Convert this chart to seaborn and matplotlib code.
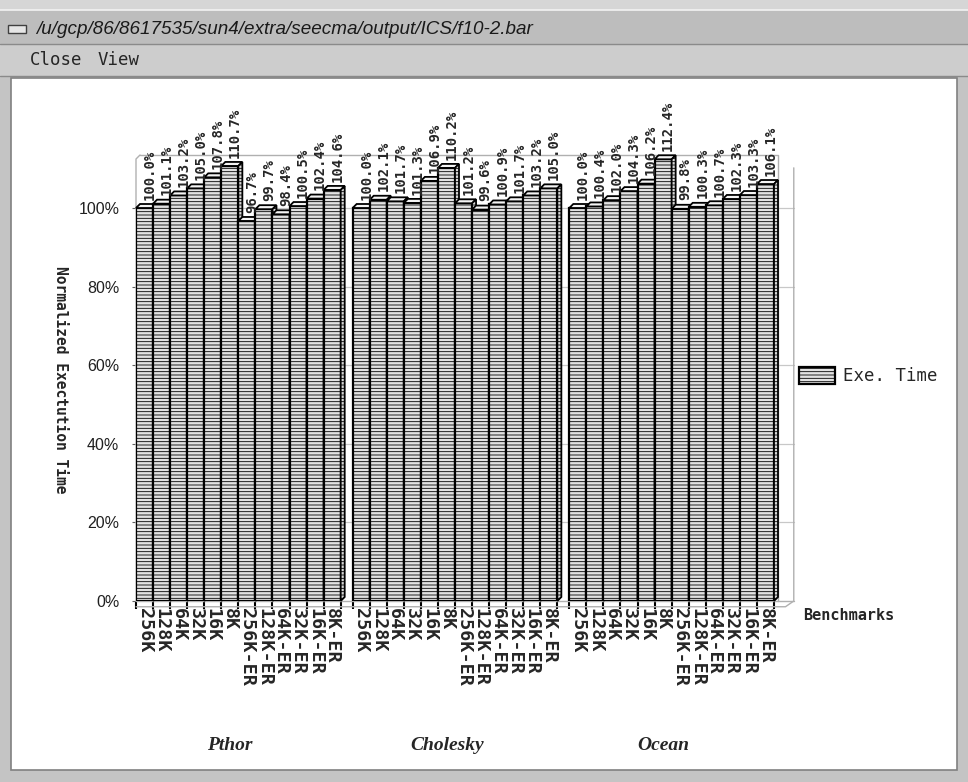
import numpy as np
import pandas as pd
import matplotlib
matplotlib.use("Agg")
import matplotlib.pyplot as plt
from matplotlib.patches import Rectangle, Polygon, Patch
from matplotlib.lines import Line2D
import seaborn as sns

# ---- data -------------------------------------------------------------
groups = ["Pthor", "Cholesky", "Ocean"]
configs = ["256K", "128K", "64K", "32K", "16K", "8K",
           "256K-ER", "128K-ER", "64K-ER", "32K-ER", "16K-ER", "8K-ER"]
pthor = [100.0, 101.1, 103.2, 105.0, 107.8, 110.7, 96.7, 99.7, 98.4, 100.5, 102.4, 104.6]
cholesky = [100.0, 102.1, 101.7, 101.3, 106.9, 110.2, 101.2, 99.6, 100.9, 101.7, 103.2, 105.0]
ocean = [100.0, 100.4, 102.0, 104.3, 106.2, 112.4, 99.8, 100.3, 100.7, 102.3, 103.3, 106.1]
yticks = [0, 20, 40, 60, 80, 100]

GAP = 0.7  # empty slot between benchmark groups, in bar widths
rows = []
for g, (name, vals) in enumerate(zip(groups, [pthor, cholesky, ocean])):
    for i, (cfg, v) in enumerate(zip(configs, vals)):
        rows.append({"group": name, "config": cfg, "value": v,
                     "pos": g * (len(configs) + GAP) + i})
df = pd.DataFrame(rows)

# ---- figure / window chrome --------------------------------------------
W, H = 968, 782
sns.set_style("white")
plt.rcParams["hatch.color"] = "#a6a6a6"
plt.rcParams["hatch.linewidth"] = 0.6
fig = plt.figure(figsize=(W / 100, H / 100), dpi=100)
fig.patch.set_facecolor("#c4c4c4")


def frect(x, y, w, h, **kw):
    """Rectangle in pixel coordinates measured from the top-left corner."""
    r = Rectangle((x / W, 1 - (y + h) / H), w / W, h / H,
                  transform=fig.transFigure, zorder=-10, **kw)
    fig.add_artist(r)
    return r


def fline(xs, ys, **kw):
    fig.add_artist(Line2D([x / W for x in xs], [1 - y / H for y in ys],
                          transform=fig.transFigure, zorder=-9, **kw))


frect(0, 0, W, 10, facecolor="#d6d6d6", edgecolor="none")
frect(0, 10, W, 34, facecolor="#bdbdbd", edgecolor="none")
fline([0, W], [10, 10], color="#f2f2f2", lw=1.2)
fline([0, W], [44, 44], color="#8a8a8a", lw=1.0)
frect(0, 45, W, 31, facecolor="#cdcdcd", edgecolor="none")
fline([0, W], [76, 76], color="#8a8a8a", lw=1.0)
frect(8, 25, 18, 8, facecolor="#e6e6e6", edgecolor="#404040", lw=1.0)
fig.text(36 / W, 1 - 29 / H, "/u/gcp/86/8617535/sun4/extra/seecma/output/ICS/f10-2.bar",
         fontsize=13.6, style="italic", family="Liberation Sans", color="#1a1a1a",
         va="center", ha="left")
fig.text(30 / W, 1 - 60 / H, "Close", fontsize=12.5, family="DejaVu Sans Mono",
         va="center", ha="left")
fig.text(98 / W, 1 - 60 / H, "View", fontsize=12.5, family="DejaVu Sans Mono",
         va="center", ha="left")
frect(11, 78, W - 22, H - 90, facecolor="white", edgecolor="#808080", lw=1.2)

# ---- chart axes ---------------------------------------------------------
AX_L, AX_R, AX_B, AX_T = 136, 774, 601, 159
ax = fig.add_axes([AX_L / W, 1 - AX_B / H, (AX_R - AX_L) / W, (AX_B - AX_T) / H])
ax.set_facecolor("none")

sns.barplot(data=df, x="pos", y="value", native_scale=True, orient="x",
            width=1.0, color="#e2e2e2", edgecolor="black", linewidth=1.6,
            hatch="-----", errorbar=None, ax=ax, zorder=3)

npos = df["pos"].to_numpy()
ax.set_xlim(npos.min() - 0.5, npos.max() + 0.5)
ymax = 100 * (AX_B - AX_T) / (AX_B - 208)
ax.set_ylim(0, ymax)

# pixel sizes -> data units for the oblique depth of the bars
px_x = (npos.max() - npos.min() + 1) / (AX_R - AX_L)
px_y = ymax / (AX_B - AX_T)
D = 4
dx, dy = D * px_x, D * px_y

bars = sorted(ax.patches, key=lambda p: p.get_x())
edges = []
for k, bar in enumerate(bars):
    x0, w, h = bar.get_x(), bar.get_width(), bar.get_height()
    x1 = x0 + w
    edges += [x0, x1]
    bar.set_zorder(3 + 3 * k)
    top = Polygon([(x0, h), (x1, h), (x1 + dx, h + dy), (x0 + dx, h + dy)],
                  closed=True, facecolor="#f4f4f4", edgecolor="black",
                  lw=1.3, zorder=4 + 3 * k, clip_on=False)
    side = Polygon([(x1, 0), (x1 + dx, dy), (x1 + dx, h + dy), (x1, h)],
                   closed=True, facecolor="#d8d8d8", edgecolor="black",
                   lw=1.3, hatch="-----", zorder=5 + 3 * k, clip_on=False)
    ax.add_patch(top)
    ax.add_patch(side)

# value labels above each bar
for _, r in df.iterrows():
    ax.annotate(f"{r['value']:.1f}%", (r["pos"] + 0.3, r["value"]),
                xytext=(0, 6), textcoords="offset points", rotation=90,
                ha="center", va="bottom", fontsize=10, fontweight="bold",
                family="DejaVu Sans Mono", annotation_clip=False, zorder=200)

# grid, back wall and floor of the 3D box
for yv in yticks[1:]:
    ax.plot([0, 1.031], [yv / ymax] * 2, transform=ax.transAxes,
            color="#c8c8c8", lw=0.9, zorder=1, clip_on=False)
fx = D / (AX_R - AX_L)
fy = D / (AX_B - AX_T)
ax.plot([fx, 1 + fx, 1 + fx], [1 + fy, 1 + fy, 0], transform=ax.transAxes,
        color="#b0b0b0", lw=1.0, zorder=1, clip_on=False)
ax.plot([0, 0, fx], [0, 1, 1 + fy], transform=ax.transAxes,
        color="#b0b0b0", lw=1.0, zorder=1, clip_on=False)
ax.plot([0, 1.031], [0, 0], transform=ax.transAxes,
        color="#b0b0b0", lw=1.0, zorder=1, clip_on=False)
ax.plot([0, 1.018, 1.031, 1.031], [-0.013, -0.013, 0.0, 0.98], transform=ax.transAxes,
        color="#b0b0b0", lw=1.0, zorder=1, clip_on=False)

for s in ax.spines.values():
    s.set_visible(False)

ax.set_yticks(yticks)
ax.set_yticklabels([f"{v}%" for v in yticks], fontsize=11.5,
                   family="Liberation Sans", color="#202020")
ax.tick_params(axis="y", left=True, length=3, width=0.8, color="#606060", pad=9)
ax.set_xticks(npos)
ax.set_xticklabels(df["config"], rotation=-90, fontsize=13.2, fontweight="bold",
                   family="DejaVu Sans Mono")
ax.tick_params(axis="x", which="major", bottom=True, length=0, pad=5)
# short black marks below the floor at every bar boundary
ax.set_xticks(sorted(set(np.round(edges, 6))), minor=True)
ax.tick_params(axis="x", which="minor", bottom=True, length=6, width=1.5,
               color="black")
ax.set_xlabel("")
ax.set_ylabel("Normalized Exectution Time", rotation=-90, fontsize=10.5,
              fontweight="bold", family="DejaVu Sans Mono", va="center")
ax.yaxis.set_label_coords(-0.118, 0.5)

fig.text(803 / W, 1 - 615 / H, "Benchmarks", fontsize=11, fontweight="bold",
         family="DejaVu Sans Mono", ha="left", va="center")

# benchmark group names under each block of bars
for g, name in enumerate(groups):
    centre = df.loc[df["group"] == name, "pos"].mean()
    ax.annotate(name, (centre, 0), xycoords=("data", "axes fraction"),
                xytext=(-6, -(745 - AX_B) * 0.72), textcoords="offset points",
                ha="center", va="center", fontsize=14, fontweight="bold",
                style="italic", family="Liberation Serif", annotation_clip=False)

# legend
handle = Patch(facecolor="#e2e2e2", edgecolor="black", lw=1.6, hatch="-----")
ax.legend([handle], ["Exe. Time"], loc="center left",
          bbox_to_anchor=(799 / W, 1 - 376 / H), bbox_transform=fig.transFigure,
          frameon=False, handlelength=2.1, handleheight=1.15, handletextpad=0.45,
          borderaxespad=0, borderpad=0,
          prop={"family": "DejaVu Sans Mono", "size": 12.5})

fig.savefig("out.png", dpi=100, facecolor=fig.get_facecolor())
